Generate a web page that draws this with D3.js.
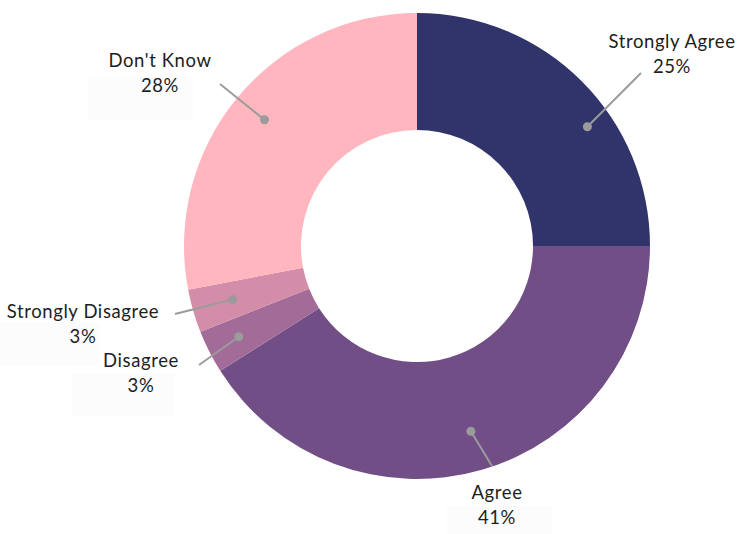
<!DOCTYPE html>
<html>
<head>
<meta charset="utf-8">
<script src="https://cdn.jsdelivr.net/npm/d3@7"></script>
<style>
  html, body { margin: 0; padding: 0; background: #fff; }
  svg { display: block; }
  text { font-family: "Lato", "Noto Sans", sans-serif; fill: #1e1e1e; letter-spacing: 0.6px; }
</style>
</head>
<body>
<svg id="chart" width="755" height="534"></svg>
<script>
// Survey responses (percent of respondents)
const categories = ["Strongly Agree", "Agree", "Disagree", "Strongly Disagree", "Don't Know"];
const percents = [25, 41, 3, 3, 28];
const colors = ["#30346b", "#724e87", "#a26b98", "#d48da9", "#ffb6bf"];

// Label placement: text anchor, leader-line end and faint backing box for each slice
const labelLayout = {
  "Strongly Agree":    { tx: 672, ty: 48,  lx: 641, ly: 73,  dotAngle: 55,  dotR: 208, box: null },
  "Agree":             { tx: 497, ty: 499, lx: 492, ly: 466, dotAngle: null, dotR: 193, box: [447, 506, 105, 28] },
  "Disagree":          { tx: 141, ty: 367, lx: 199, ly: 365, dotAngle: null, dotR: 200, box: [72, 374, 103, 42] },
  "Strongly Disagree": { tx: 83,  ty: 318, lx: 175, ly: 314, dotAngle: null, dotR: 192, box: [0, 322, 100, 44] },
  "Don't Know":        { tx: 160, ty: 67,  lx: 220, ly: 84,  dotAngle: null, dotR: 198, box: [88, 77, 105, 43] }
};

const cx = 417, cy = 246, outerR = 233, innerR = 116;

const svg = d3.select("#chart");
const data = categories.map((c, i) => ({ category: c, value: percents[i], color: colors[i] }));

const pie = d3.pie().sort(null).value(d => d.value);
const arcs = pie(data);
const arc = d3.arc().innerRadius(innerR).outerRadius(outerR);

// Faint label backing boxes
svg.append("g").selectAll("rect")
  .data(arcs.filter(a => labelLayout[a.data.category].box))
  .join("rect")
  .attr("x", a => labelLayout[a.data.category].box[0])
  .attr("y", a => labelLayout[a.data.category].box[1])
  .attr("width", a => labelLayout[a.data.category].box[2])
  .attr("height", a => labelLayout[a.data.category].box[3])
  .attr("fill", "#fcfcfc");

const g = svg.append("g").attr("transform", `translate(${cx},${cy})`);

g.selectAll("path")
  .data(arcs)
  .join("path")
  .attr("d", arc)
  .attr("fill", a => a.data.color);

// Leader lines with a dot inside each slice
function dotPos(a) {
  const L = labelLayout[a.data.category];
  const ang = L.dotAngle != null ? L.dotAngle * Math.PI / 180 : (a.startAngle + a.endAngle) / 2;
  return [cx + L.dotR * Math.sin(ang), cy - L.dotR * Math.cos(ang)];
}

const leaders = svg.append("g");
arcs.forEach(a => {
  const L = labelLayout[a.data.category];
  const [dx, dy] = dotPos(a);
  leaders.append("line")
    .attr("x1", dx).attr("y1", dy)
    .attr("x2", L.lx).attr("y2", L.ly)
    .attr("stroke", "#9b9b9b").attr("stroke-width", 2);
  leaders.append("circle")
    .attr("cx", dx).attr("cy", dy).attr("r", 4.5)
    .attr("fill", "#9b9b9b");
});

// Category and percentage labels
const labels = svg.append("g");
arcs.forEach(a => {
  const L = labelLayout[a.data.category];
  const t = labels.append("text")
    .attr("x", L.tx).attr("y", L.ty)
    .attr("text-anchor", "middle")
    .attr("font-size", 18.5);
  t.append("tspan").attr("x", L.tx).text(a.data.category);
  t.append("tspan").attr("x", L.tx).attr("dy", 25).text(a.data.value + "%");
});
</script>
</body>
</html>
